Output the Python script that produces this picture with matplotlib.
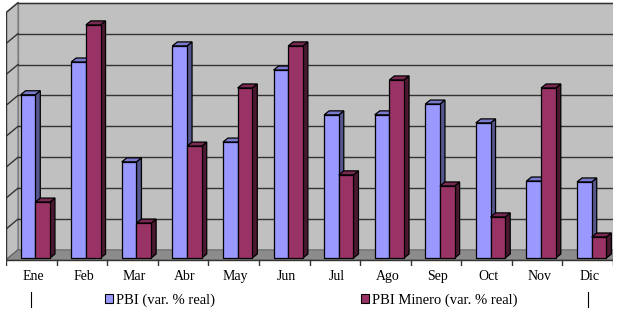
import matplotlib
matplotlib.use("Agg")
import matplotlib.pyplot as plt
from matplotlib.patches import Polygon, Patch
from matplotlib.lines import Line2D
import numpy as np

# Datos (unidades = divisiones de la grilla)
meses = ["Ene", "Feb", "Mar", "Abr", "May", "Jun", "Jul", "Ago", "Sep", "Oct", "Nov", "Dic"]
pbi = [5.28, 6.34, 3.11, 6.86, 3.75, 6.08, 4.63, 4.63, 4.98, 4.37, 2.49, 2.46]
pbi_minero = [1.81, 7.54, 1.13, 3.62, 5.50, 6.86, 2.69, 5.76, 2.33, 1.33, 5.50, 0.68]
etiquetas = ["PBI (var. % real)", "PBI Minero (var. % real)"]
n_grid = 8

plt.rcParams['font.family'] = ['Liberation Serif', 'DejaVu Serif']

fig = plt.figure(figsize=(6.27, 3.10), dpi=100)
ax = fig.add_axes([6 / 627, 0.1413, 607 / 627, 0.8587])
ax.set_xlim(-0.5, len(meses) - 0.5)
ax.set_ylim(-0.2, 8.41)
ax.axis("off")


def mover(x, y, dx, dy):
    # punto en datos desplazado dx, dy pixeles (efecto 3D)
    p = ax.transData.transform((x, y)) + np.array([dx, dy])
    return ax.transData.inverted().transform(p)


x_ini, x_fin = -0.5, len(meses) - 0.5
wall = (12, 10)

# pared de fondo, pared izquierda y piso
fondo = [mover(x_ini, 0, *wall), mover(x_fin, 0, *wall), mover(x_fin, n_grid, *wall), mover(x_ini, n_grid, *wall)]
ax.add_patch(Polygon(fondo, closed=True, fc="#c0c0c0", ec="#808080", lw=1, zorder=1))
izq = [(x_ini, 0), mover(x_ini, 0, *wall), mover(x_ini, n_grid, *wall), (x_ini, n_grid)]
ax.add_patch(Polygon(izq, closed=True, fc="#c0c0c0", ec="#808080", lw=1, zorder=1))
piso = [(x_ini, 0), (x_fin, 0), mover(x_fin, 0, *wall), mover(x_ini, 0, *wall)]
ax.add_patch(Polygon(piso, closed=True, fc="#8c8c8c", ec="#707070", lw=0.8, zorder=2))

# grilla
for k in range(n_grid + 1):
    a = mover(x_ini, k, *wall)
    b = mover(x_fin, k, *wall)
    ax.plot([a[0], b[0]], [a[1], b[1]], color="#333333", lw=1, zorder=1.5)
    ax.plot([x_ini, a[0]], [k, a[1]], color="#333333", lw=1, zorder=1.5)
ax.plot([x_ini, x_ini], [0, n_grid], color="#333333", lw=1, zorder=2)

# ejes inferiores y marcas
ax.plot([x_ini, x_fin], [0, 0], color="#333333", lw=1, zorder=2.5)
for k in range(len(meses) + 1):
    p = mover(x_ini + k, 0, 0, -6)
    ax.plot([x_ini + k, p[0]], [0, p[1]], color="#333333", lw=1, zorder=2.5)

# barras 3D
ancho = 0.29
f_off = (4, 2)
b_off = (9, 6)
colores = [("#9999ff", "#7a7acc", "#56568f"), ("#993366", "#7a2952", "#4a1830")]
z = 3
for i in range(len(meses)):
    for j, serie in enumerate([pbi, pbi_minero]):
        v = serie[i]
        x0 = i - ancho + j * ancho
        x1 = x0 + ancho
        c_frente, c_tope, c_lado = colores[j]
        frente = [mover(x0, 0, *f_off), mover(x1, 0, *f_off), mover(x1, v, *f_off), mover(x0, v, *f_off)]
        tope = [mover(x0, v, *f_off), mover(x1, v, *f_off), mover(x1, v, *b_off), mover(x0, v, *b_off)]
        lado = [mover(x1, 0, *f_off), mover(x1, 0, *b_off), mover(x1, v, *b_off), mover(x1, v, *f_off)]
        for poly, c in [(lado, c_lado), (tope, c_tope), (frente, c_frente)]:
            ax.add_patch(Polygon(poly, closed=True, fc=c, ec="black", lw=0.9, zorder=z))
        z += 0.1

# etiquetas de meses
for i, m in enumerate(meses):
    p = mover(i, 0, 2, -16)
    ax.text(p[0], p[1], m, ha="center", va="center", fontsize=10)

# leyenda
handles = [Patch(fc=colores[0][0], ec="black", lw=0.8), Patch(fc=colores[1][0], ec="black", lw=0.8)]
fig.legend(handles, etiquetas, ncol=2, loc="center left", bbox_to_anchor=(92 / 627, 1 - 300 / 310),
           frameon=False, fontsize=10.5, handlelength=0.55, handleheight=0.55, handletextpad=0.2,
           columnspacing=10.0)
for xp in [30.5, 587.5]:
    fig.add_artist(Line2D([xp / 627, xp / 627], [1 - 292 / 310, 1 - 307 / 310],
                          transform=fig.transFigure, color="black", lw=0.8))

fig.savefig("out.png", dpi=100)
